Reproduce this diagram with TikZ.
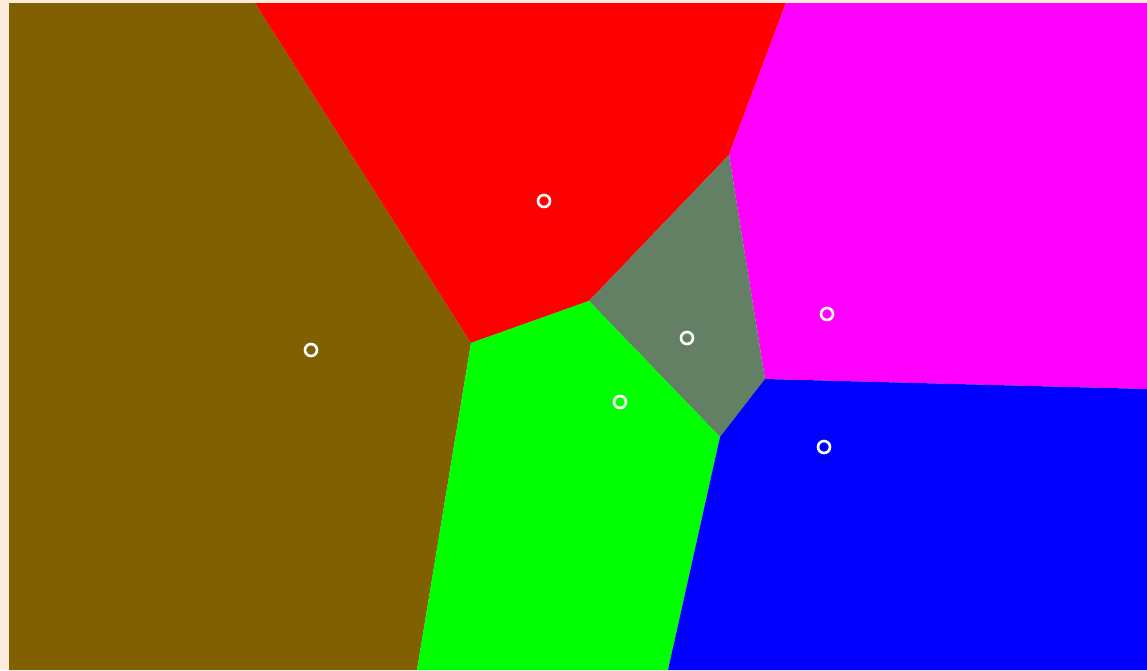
\documentclass[tikz,border=0pt]{standalone}
\definecolor{paper}{RGB}{253,235,221}
\definecolor{cellbrown}{RGB}{128,96,0}
\definecolor{cellgray}{RGB}{100,128,100}
\definecolor{cellmagenta}{RGB}{255,0,255}

\begin{document}
\begin{tikzpicture}[x=0.02cm,y=-0.02cm]
  \tikzstyle{site}=[circle,draw=white,line width=1.5pt,inner sep=0pt,minimum size=0.24cm]
  \fill[paper] (0,0) rectangle (1147,670);
  % voronoi vertices
  \coordinate (v1) at (471,343);
  \coordinate (v2) at (589,301);
  \coordinate (v3) at (729,155);
  \coordinate (v4) at (765,379);
  \coordinate (v5) at (720,437);
  % cells
  \fill[cellbrown] (9,3) -- (255,3) -- (v1) -- (417,670) -- (9,670) -- cycle;
  \fill[red] (255,3) -- (786,3) -- (v3) -- (v2) -- (v1) -- cycle;
  \fill[cellmagenta] (786,3) -- (1147,3) -- (1147,389) -- (v4) -- (v3) -- cycle;
  \fill[cellgray] (v3) -- (v4) -- (v5) -- (v2) -- cycle;
  \fill[green] (v1) -- (v2) -- (v5) -- (668,670) -- (417,670) -- cycle;
  \fill[blue] (v5) -- (v4) -- (1147,389) -- (1147,670) -- (668,670) -- cycle;
  % sites
  \node[site] (s1) at (544,201) {};
  \node[site] (s2) at (311,350) {};
  \node[site] (s3) at (687,338) {};
  \node[site] (s4) at (620,402) {};
  \node[site] (s5) at (827,314) {};
  \node[site] (s6) at (824,447) {};
\end{tikzpicture}
\end{document}
